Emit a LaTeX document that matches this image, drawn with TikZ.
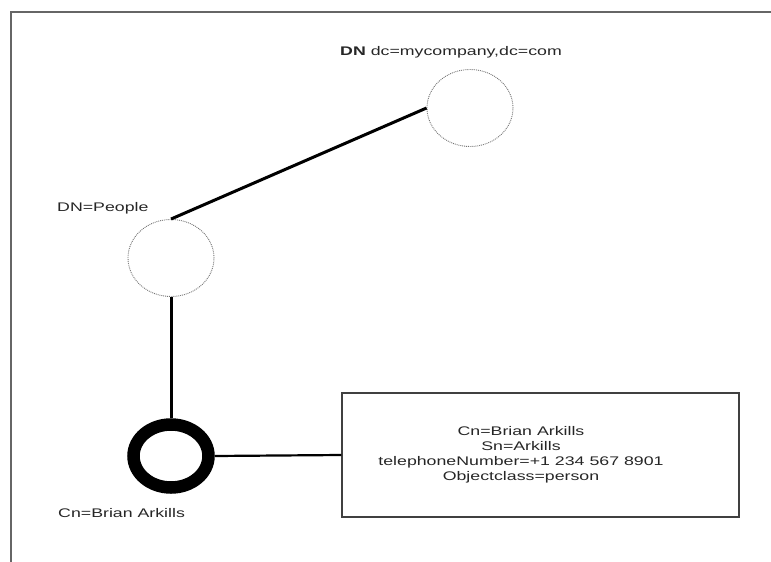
\documentclass[tikz,border=0pt]{standalone}
\usepackage{fontspec}
\setmainfont{Liberation Sans}
\newfontfamily\wide[FakeStretch=1.42]{Liberation Sans}
\usetikzlibrary{shapes.geometric}
\tikzset{
  lbl/.style={inner sep=0pt, font=\wide\fontsize{12.5}{15}\selectfont, text=black!85},
  entry/.style={ellipse, draw=black!55, densely dotted, line width=0.9pt, inner sep=0pt, minimum width=86, minimum height=77},
  leaf/.style={ellipse, draw=black, line width=12.5, inner sep=0pt, minimum width=75, minimum height=63},
  link/.style={draw=black, line width=3pt},
  attrbox/.style={rectangle, draw=black!75, line width=1.3pt, inner sep=0pt, minimum width=397, minimum height=124},
  frameline/.style={draw=black!60, line width=1.8pt}
}
\begin{document}
\begin{tikzpicture}[x=1pt,y=-1pt]
\useasboundingbox (0,0) rectangle (771,562);
% frame
\coordinate (fa) at (11,562);
\coordinate (fb) at (11,12);
\coordinate (fc) at (771,12);
\draw[frameline] (fa) -- (fb) -- (fc);
% nodes
\node[entry] (root) at (470,108) {};
\node[lbl] (rootlbl) at (451,52) {\textbf{DN} dc=mycompany,dc=com};
\node[entry] (people) at (171,258) {};
\node[lbl, anchor=west] (peoplelbl) at (57,208) {DN=People};
\node[leaf] (brian) at (171,456) {};
\node[lbl, anchor=west] (brianlbl) at (58,513) {Cn=Brian Arkills};
\node[attrbox] (box) at (540.5,455) {};
\node[lbl, align=center] (attrs) at (521,455) {Cn=Brian Arkills\\Sn=Arkills\\telephoneNumber=+1 234 567 8901\\Objectclass=person};
% connectors
\draw[link] (people.north) -- (root.west);
\draw[link] (people.south) -- (brian.north);
\draw[link, line width=2.2pt] (brian.east) -- (box.west);
\end{tikzpicture}
\end{document}
